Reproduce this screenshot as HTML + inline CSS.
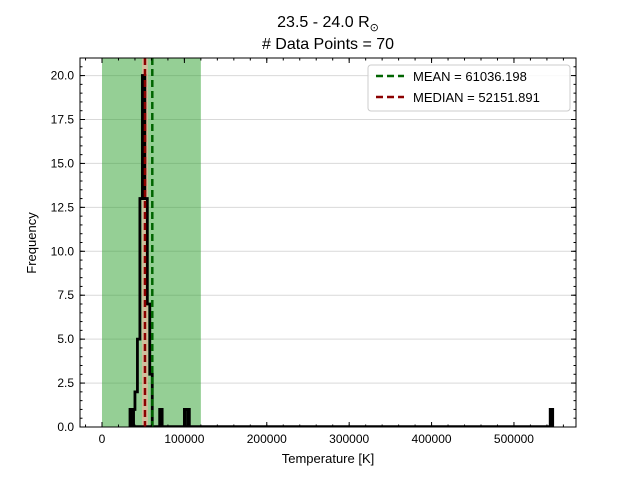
<!DOCTYPE html>
<html><head><meta charset="utf-8"><style>
body{margin:0;background:#fff;font-family:"Liberation Sans","DejaVu Sans",sans-serif}
</style></head><body>
<svg id="c" width="640" height="480" xmlns="http://www.w3.org/2000/svg" font-family="Liberation Sans, DejaVu Sans, sans-serif">
<rect width="640" height="480" fill="#fff"/>
<text x="328" y="27" text-anchor="middle" font-size="16">23.5 - 24.0 R<tspan font-size="11" dy="4">⊙</tspan></text>
<text x="328" y="49" text-anchor="middle" font-size="16"># Data Points = 70</text>
<g id="plot"></g>
<text x="328" y="463" text-anchor="middle" font-size="13">Temperature [K]</text>
<text x="36" y="243" text-anchor="middle" font-size="13" transform="rotate(-90 36 243)">Frequency</text>
</svg>
<script>
const binStarts=[34000,37000,40000,43000,46000,49000,52000,55000,58000,70000,100000,103000,544000];
const counts=[1,1,2,5,13,20,13,7,3,1,1,1,1];
const binWidth=3000;
const yTicks=[0,2.5,5,7.5,10,12.5,15,17.5,20];
const xTicks=[0,100000,200000,300000,400000,500000];
const meanVal=61036.198, medianVal=52151.891;
const spanLo=0, spanHi=120000;
const L=80,R=576,T=58,B=427,xMin=-26700,xMax=575300,yMax=21;
const X=v=>L+(v-xMin)/(xMax-xMin)*(R-L);
const Y=v=>B-v/yMax*(B-T);
const ns="http://www.w3.org/2000/svg";
const g=document.getElementById('plot');
function mk(t,a){const e=document.createElementNS(ns,t);for(const k in a)e.setAttribute(k,a[k]);g.appendChild(e);return e;}
yTicks.forEach(v=>{if(v>0){const l=mk('line',{x1:L,x2:R,y1:Y(v),y2:Y(v),stroke:'#d9d9d9','stroke-width':1});

}});
const sp=mk('rect',{x:X(spanLo),y:T,width:X(spanHi)-X(spanLo),height:B-T,fill:'#2ca02c','fill-opacity':0.5});


const mb=mk('rect',{x:X(medianVal)-3,y:T,width:6,height:B-T,fill:'#e8b8a0','fill-opacity':0.7});


let d='';
binStarts.forEach((s,i)=>{const x0=X(s),x1=X(s+binWidth),y=Y(counts[i]);
const prevAdj=i>0&&binStarts[i-1]+binWidth===s;
const nextAdj=i<binStarts.length-1&&s+binWidth===binStarts[i+1];
if(!prevAdj)d+=`M${x0},${B}L${x0},${y}`;else d+=`L${x0},${y}`;
d+=`L${x1},${y}`;
if(!nextAdj)d+=`L${x1},${B}`;else d+=`L${x1},${Y(counts[i+1])}`;});
const h=mk('path',{d:d,fill:'none',stroke:'#000','stroke-width':2.8});


binStarts.forEach((s,i)=>{if(counts[i]===1){const r=mk('rect',{x:X(s),y:Y(1),width:X(s+binWidth)-X(s),height:B-Y(1),fill:'#000'});

}});
const bl=mk('line',{x1:X(binStarts[0]),x2:X(binStarts[binStarts.length-1]+binWidth),y1:B-1,y2:B-1,stroke:'#000','stroke-width':1.5});


const ml=mk('line',{x1:X(meanVal),x2:X(meanVal),y1:T,y2:B,stroke:'#006400','stroke-width':2.5,'stroke-dasharray':'7,4'});


const dl=mk('line',{x1:X(medianVal),x2:X(medianVal),y1:T,y2:B,stroke:'#8b0000','stroke-width':2.5,'stroke-dasharray':'7,4'});


const fr=mk('rect',{x:L,y:T,width:R-L,height:B-T,fill:'none',stroke:'#000','stroke-width':1});


yTicks.forEach(v=>{mk('line',{x1:L,x2:L+5,y1:Y(v),y2:Y(v),stroke:'#000'});mk('line',{x1:R,x2:R-5,y1:Y(v),y2:Y(v),stroke:'#000'});
const t=mk('text',{x:L-6,y:Y(v)+4,'text-anchor':'end','font-size':12});t.textContent=v.toFixed(1);

});
for(let v=0;v<=yMax;v+=0.5){mk('line',{x1:L,x2:L+2.5,y1:Y(v),y2:Y(v),stroke:'#000'});mk('line',{x1:R,x2:R-2.5,y1:Y(v),y2:Y(v),stroke:'#000'});}
xTicks.forEach(v=>{mk('line',{x1:X(v),x2:X(v),y1:B,y2:B-5,stroke:'#000'});mk('line',{x1:X(v),x2:X(v),y1:T,y2:T+5,stroke:'#000'});
const t=mk('text',{x:X(v),y:B+16,'text-anchor':'middle','font-size':12});t.textContent=String(v);

});
for(let v=-20000;v<=xMax;v+=20000){mk('line',{x1:X(v),x2:X(v),y1:B,y2:B-2.5,stroke:'#000'});mk('line',{x1:X(v),x2:X(v),y1:T,y2:T+2.5,stroke:'#000'});}
const lg=mk('rect',{x:368,y:65,width:202,height:46,rx:3,fill:'#fff','fill-opacity':0.85,stroke:'#ccc'});


[['MEAN = 61036.198','#006400',81],['MEDIAN = 52151.891','#8b0000',102]].forEach(([s,c,y])=>{
mk('line',{x1:376,x2:404,y1:y-5,y2:y-5,stroke:c,'stroke-width':2.5,'stroke-dasharray':'7,4'});
const t=mk('text',{x:413,y:y,'font-size':13});t.textContent=s;

});
</script>
</body></html>
